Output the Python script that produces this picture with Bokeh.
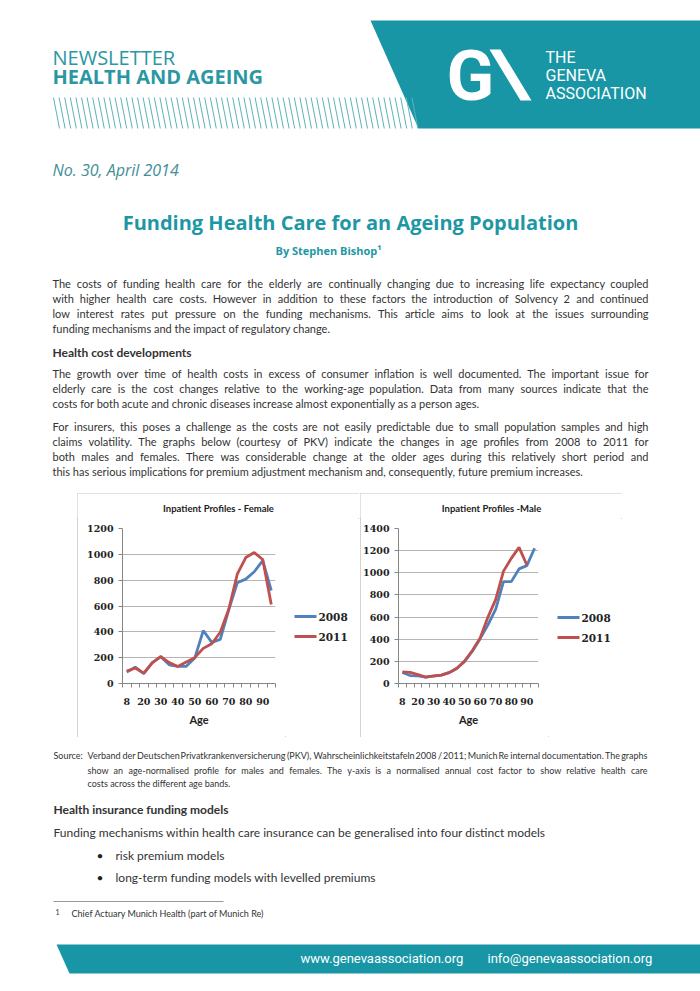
import numpy as np
from bokeh.plotting import figure
from bokeh.models import Range1d, FixedTicker, Spacer, ColumnDataSource
from bokeh.layouts import column, row
from bokeh.embed import file_html
from bokeh.resources import INLINE
from bokeh.core.properties import value, field

# ---------------- chart data ----------------
ages = [8, 15, 20, 25, 30, 35, 40, 45, 50, 55, 60, 65, 70, 75, 80, 85, 90, 95]
female_2008 = [88, 126, 77, 162, 208, 145, 133, 133, 197, 410, 318, 342, 570, 780, 808, 865, 952, 720]
female_2011 = [96, 120, 80, 160, 208, 162, 132, 167, 200, 272, 308, 397, 575, 846, 975, 1014, 960, 612]
male_2008 = [100, 72, 68, 58, 66, 75, 98, 135, 200, 292, 405, 530, 672, 920, 920, 1035, 1065, 1222]
male_2011 = [105, 100, 80, 58, 68, 75, 98, 138, 202, 298, 412, 600, 760, 1015, 1130, 1230, 1070, float("nan")]
series_labels = ["2008", "2011"]
female_yticks = [0, 200, 400, 600, 800, 1000, 1200]
male_yticks = [0, 200, 400, 600, 800, 1000, 1200, 1400]
chart_titles = ["Inpatient Profiles - Female", "Inpatient Profiles -Male"]
x_label = "Age"

# ---------------- page text ----------------
header_title = "Funding Health Care for an Ageing Population"
byline = "By Stephen Bishop\u00b9"
para1 = [
    "The costs of funding health care for the elderly are continually changing due to increasing life expectancy coupled",
    "with higher health care costs. However in addition to these factors the introduction of Solvency 2 and continued",
    "low interest rates put pressure on the funding mechanisms. This article aims to look at the issues surrounding",
    "funding mechanisms and the impact of regulatory change.",
]
heading1 = "Health cost developments"
para2 = [
    "The growth over time of health costs in excess of consumer inflation is well documented. The important issue for",
    "elderly care is the cost changes relative to the working-age population. Data from many sources indicate that the",
    "costs for both acute and chronic diseases increase almost exponentially as a person ages.",
]
para3 = [
    "For insurers, this poses a challenge as the costs are not easily predictable due to small population samples and high",
    "claims volatility. The graphs below (courtesy of PKV) indicate the changes in age profiles from 2008 to 2011 for",
    "both males and females. There was considerable change at the older ages during this relatively short period and",
    "this has serious implications for premium adjustment mechanism and, consequently, future premium increases.",
]
source_lines = [
    "Verband der Deutschen Privatkrankenversicherung (PKV), Wahrscheinlichkeitstafeln 2008 / 2011; Munich Re internal documentation. The graphs",
    "show an age-normalised profile for males and females. The y-axis is a normalised annual cost factor to show relative health care",
    "costs across the different age bands.",
]
heading2 = "Health insurance funding models"
funding_line = "Funding mechanisms within health care insurance can be generalised into four distinct models"
bullets = ["risk premium models", "long-term funding models with levelled premiums"]
footnote = "Chief Actuary Munich Health (part of Munich Re)"
footer_links = ["www.genevaassociation.org", "info@genevaassociation.org"]

TEAL = "#1896a6"
BLUE = "#4F81BD"
RED = "#C0504D"
BODY = "#333333"
PAGE_W = 700

# approximate glyph advance widths (em) used only to spread justified words
CW = dict(zip("abcdefghijklmnopqrstuvwxyz",
              [.50, .56, .46, .56, .52, .32, .50, .56, .24, .24, .50, .24, .84, .56, .56, .56, .56, .37, .42, .35, .56, .50, .76, .49, .50, .45]))
CW.update(dict(zip("ABCDEFGHIJKLMNOPQRSTUVWXYZ",
                   [.67, .63, .65, .72, .56, .54, .71, .74, .28, .40, .65, .50, .88, .74, .78, .60, .78, .62, .53, .58, .72, .66, .98, .63, .62, .59])))
CW.update({c: .58 for c in "0123456789"})
CW.update({".": .23, ",": .23, ";": .25, ":": .25, "(": .32, ")": .32, "-": .34, "/": .40, "'": .2, " ": .2})


def word_width(w, size):
    return sum(CW.get(c, .55) for c in w) * size


class TextLayer:
    def __init__(self):
        self.groups = {}

    def add(self, style, x, y, s, align="left"):
        g = self.groups.setdefault(style, {"x": [], "y": [], "text": [], "align": []})
        g["x"].append(x)
        g["y"].append(y)
        g["text"].append(s)
        g["align"].append(align)

    def justified(self, style, line, x0, x1, y):
        size = style[1]
        words = line.split(" ")
        ws = [word_width(w, size) for w in words]
        gap = (x1 - x0 - sum(ws)) / (len(words) - 1)
        x = x0
        for i, (w, wd) in enumerate(zip(words, ws)):
            if i == len(words) - 1:
                self.add(style, x1, y, w, "right")
            else:
                self.add(style, x, y, w, "left")
            x += wd + gap

    def paragraph(self, style, lines, x0, x1, ys):
        for i, (ln, y) in enumerate(zip(lines, ys)):
            if i < len(lines) - 1:
                self.justified(style, ln, x0, x1, y)
            else:
                self.add(style, x0, y, ln)

    def render(self, p):
        for (font, size, fstyle, color), d in self.groups.items():
            p.text(x="x", y="y", text="text", source=ColumnDataSource(d),
                   text_align=field("align"), text_baseline="middle",
                   text_font=value(font), text_font_size=value(f"{size}px"),
                   text_font_style=fstyle, text_color=color)


def page_fig(w, h, x0, y0, border_top=0, border_bottom=0):
    """A blank figure whose data units are the page's pixels (y downwards)."""
    p = figure(width=w, height=h, x_range=Range1d(x0, x0 + w),
               y_range=Range1d(y0 + h - border_bottom, y0 + border_top),
               output_backend="svg", toolbar_location=None, title=None,
               min_border_left=0, min_border_right=0,
               min_border_top=border_top, min_border_bottom=border_bottom,
               x_axis_location=None, y_axis_location=None)
    p.grid.visible = False
    p.outline_line_color = None
    p.background_fill_color = "white"
    p.border_fill_color = "white"
    return p


# ---------------- header (page y 0..493) ----------------
hdr = page_fig(PAGE_W, 493, 0, 0)
hdr.patch(x=[370, 700, 700, 418], y=[20, 20, 128, 128], color=TEAL, line_width=0)
hx = np.arange(53, 414, 5.6)
hdr.segment(x0=hx, y0=[97] * len(hx), x1=hx + 6, y1=[128] * len(hx), line_color="#5db2bb", line_width=1)
hdr.patch(x=[489, 500, 531, 520], y=[49, 49, 100, 100], color="white", line_width=0)
T = TextLayer()
T.add(("Roboto", 70, "bold", "white"), 446, 75, "G")
T.add(("Roboto", 16, "normal", "white"), 545, 57, "THE")
T.add(("Roboto", 16, "normal", "white"), 545, 75, "GENEVA")
T.add(("Roboto", 16, "normal", "white"), 545, 93, "ASSOCIATION")
T.add(("Open Sans", 20, "normal", "#2a97a3"), 52, 57, "NEWSLETTER")
T.add(("Open Sans", 20, "bold", "#2a97a3"), 52, 76, "HEALTH AND AGEING")
T.add(("Open Sans", 16, "italic", "#3f8e98"), 52, 169, "No. 30, April 2014")
T.add(("Open Sans", 20, "bold", "#1e97a4"), 350, 222, header_title, "center")
T.add(("Open Sans", 11, "bold", "#1e97a4"), 328, 250, byline, "center")
BODY_STYLE = ("Lato", 11, "normal", BODY)
T.paragraph(BODY_STYLE, para1, 52, 648, [283, 298, 313, 328])
T.add(("Lato", 12, "bold", "#333333"), 52, 352, heading1)
T.paragraph(BODY_STYLE, para2, 52, 648, [373, 388, 403])
T.paragraph(BODY_STYLE, para3, 52, 648, [426, 441, 456, 471])
T.render(hdr)

# ---------------- charts (page y 493..737) ----------------
BOX_TOP, BOX_H, TITLE_H = 493, 244, 25
FRAME_TOP, FRAME_BOTTOM = 528, 683


def chart_box(title, v08, v11, yticks, box_left, box_w, frame_l, frame_r, legend_y):
    n = len(ages)
    xs = [i + 0.5 for i in range(n)]
    top = BOX_TOP + TITLE_H
    body_h = BOX_H - TITLE_H
    chart_w = frame_r + 10 - box_left
    b_top = FRAME_TOP - top
    b_bottom = BOX_TOP + BOX_H - FRAME_BOTTOM

    tfig = page_fig(box_w, TITLE_H, box_left, BOX_TOP)
    TT = TextLayer()
    TT.add(("Lato", 9.5, "bold", "#222222"), box_left + box_w / 2, 508, title, "center")
    TT.render(tfig)

    p = figure(width=chart_w, height=body_h, x_range=Range1d(0, n),
               y_range=Range1d(yticks[0], yticks[-1]), title=None,
               output_backend="svg", toolbar_location=None,
               min_border_left=frame_l - box_left, min_border_right=10,
               min_border_top=b_top, min_border_bottom=b_bottom)
    p.background_fill_color = "white"
    p.border_fill_color = "white"
    p.outline_line_color = None
    p.line(xs, v08, line_color=BLUE, line_width=2.8)
    p.line(xs, v11, line_color=RED, line_width=2.8)

    lab_ticks = [i + 0.5 for i in range(0, n, 2)]
    overrides = {}
    for i in range(0, n, 2):
        overrides[i + 0.5] = str(ages[i])
        overrides[str(i + 0.5)] = str(ages[i])
    p.xaxis.ticker = FixedTicker(ticks=lab_ticks, minor_ticks=list(range(n + 1)))
    p.xaxis.major_label_overrides = overrides
    p.yaxis.ticker = FixedTicker(ticks=yticks, minor_ticks=[])
    for ax in (p.xaxis, p.yaxis):
        ax.axis_line_color = "#868686"
        ax.major_tick_line_color = "#868686"
        ax.minor_tick_line_color = "#868686"
        ax.major_label_text_font = "DejaVu Serif"
        ax.major_label_text_font_style = "bold"
        ax.major_label_text_font_size = "9.5px"
        ax.major_label_text_color = "#222222"
        ax.major_tick_in = 0
        ax.minor_tick_in = 0
    p.yaxis.major_tick_out = 4
    p.yaxis.minor_tick_out = 0
    p.yaxis.major_label_standoff = 5
    p.xaxis.major_tick_out = 0
    p.xaxis.minor_tick_out = 4
    p.xaxis.major_label_standoff = 10
    p.xaxis.axis_label = x_label
    p.xaxis.axis_label_text_font = "Lato"
    p.xaxis.axis_label_text_font_style = "bold"
    p.xaxis.axis_label_text_font_size = "11px"
    p.xaxis.axis_label_text_color = "#222222"
    p.xaxis.axis_label_standoff = 5
    p.xgrid.visible = False
    p.ygrid.grid_line_color = "#b5b5b5"
    p.ygrid.grid_line_width = 1.2

    # legend panel to the right of the plot; its frame is aligned with the plot's frame
    lx = box_left + chart_w
    lfig = page_fig(box_left + box_w - lx, body_h, lx, top, b_top, b_bottom)
    ly = [legend_y, legend_y + 20]
    lfig.segment(x0=[frame_r + 19] * 2, y0=ly, x1=[frame_r + 41] * 2, y1=ly,
                 line_color=[BLUE, RED], line_width=3)
    LT = TextLayer()
    for lab, y in zip(series_labels, ly):
        LT.add(("DejaVu Serif", 10.5, "bold", "#222222"), frame_r + 43, y, lab)
    LT.render(lfig)

    box = column(tfig, row(p, lfig))
    box.styles = {"outline": "1px solid #c4c4c4", "outline-offset": "-1px"}
    return box


fem = chart_box(chart_titles[0], female_2008, female_2011, female_yticks, 77, 282, 122, 275, 616)
mal = chart_box(chart_titles[1], male_2008, male_2011, male_yticks, 360, 262, 397, 538, 617)
charts = row(Spacer(width=77, height=BOX_H), fem, Spacer(width=1, height=BOX_H), mal,
             Spacer(width=PAGE_W - 77 - 282 - 1 - 262, height=BOX_H))

# ---------------- footer (page y 737..990) ----------------
ftr = page_fig(PAGE_W, 253, 0, 737)
F = TextLayer()
SRC = ("Lato", 9, "normal", BODY)
F.add(SRC, 53, 755, "Source:")
F.paragraph(SRC, source_lines, 87, 647, [755, 770, 783])
F.add(("Lato", 12, "bold", "#333333"), 53, 809, heading2)
F.add(("Lato", 12, "normal", BODY), 53, 832, funding_line)
for b, y in zip(bullets, [855, 877]):
    F.add(("Lato", 12, "normal", "#222222"), 96, y, "\u2022")
    F.add(("Lato", 12, "normal", BODY), 115, y, b)
F.add(("Lato", 7, "normal", BODY), 55, 911, "1")
F.add(("Lato", 9, "normal", BODY), 71, 913, footnote)
F.add(("Roboto", 13, "normal", "white"), 300, 958, footer_links[0])
F.add(("Roboto", 13, "normal", "white"), 487, 958, footer_links[1])
ftr.segment(x0=[53], y0=[901], x1=[223], y1=[901], line_color="#999999", line_width=1)
ftr.patch(x=[56, 700, 700, 69], y=[944, 944, 973, 973], color=TEAL, line_width=0)
F.render(ftr)

page = column(hdr, charts, ftr)
open("out.html", "w").write(file_html(page, INLINE))
